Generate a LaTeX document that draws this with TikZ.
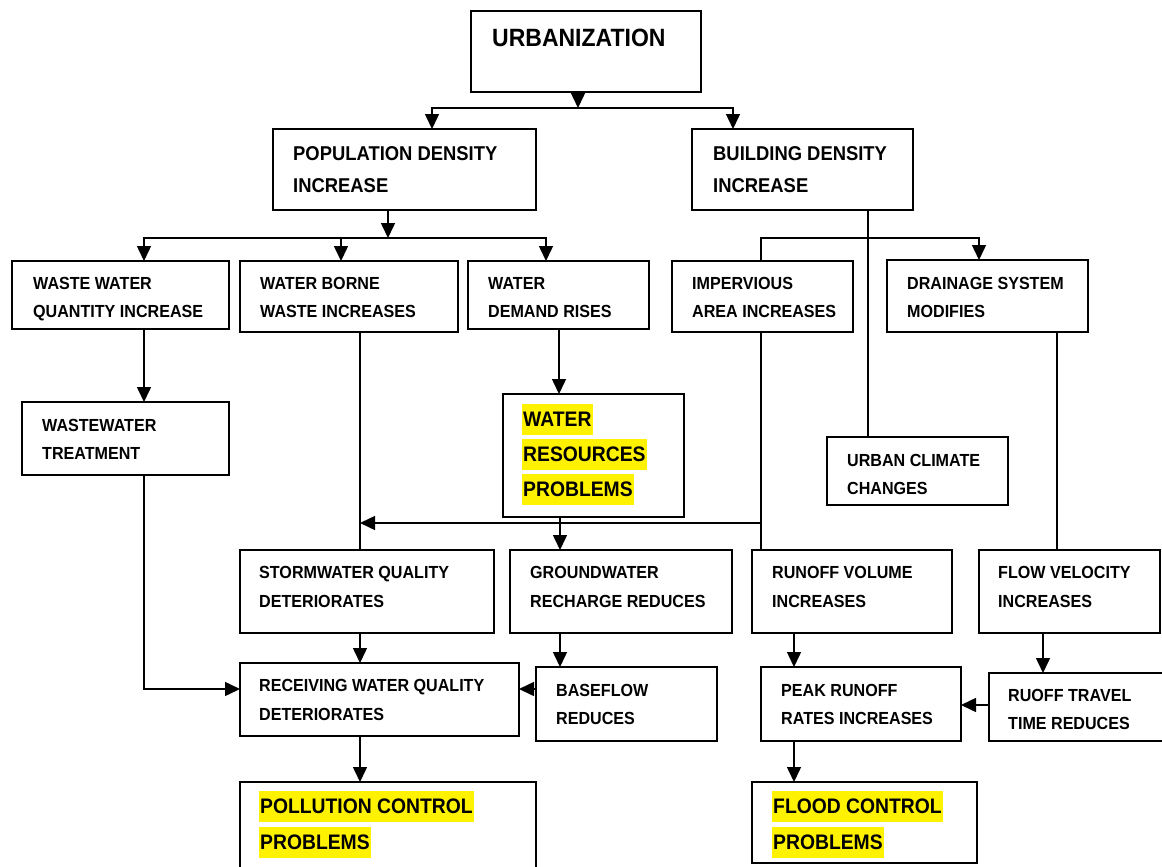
\documentclass[tikz,border=0pt]{standalone}
\usepackage{fontspec}
\setmainfont{Liberation Sans}[FakeStretch=0.92]
\usetikzlibrary{arrows.meta}
\tikzset{
  box/.style={draw, line width=1.7pt, inner sep=0pt, outer sep=0pt},
  conn/.style={line width=1.5pt},
  arr/.style={conn, -{Triangle[length=15pt,width=14pt]}},
  txt/.style={font=\fontsize{17.5}{20}\selectfont\bfseries, inner sep=0pt, text height=12.5pt, text depth=0pt, anchor=west},
  bigtxt/.style={font=\fontsize{20}{24}\selectfont\bfseries, inner sep=0pt, text height=14.3pt, text depth=0pt, anchor=west},
  hltxt/.style={font=\fontsize{21}{24}\selectfont\bfseries, fill=yellow, inner xsep=1pt, inner ysep=8pt, text height=15pt, text depth=0pt, anchor=west},
  titletxt/.style={font=\fontsize{25}{30}\selectfont\bfseries, inner sep=0pt, text height=18pt, text depth=0pt, anchor=west}
}
\newcommand\mkbox[5]{\node[box, minimum width={#4-#2}, minimum height={#5-#3}] (#1) at ({(#2+#4)/2},{(#3+#5)/2}) {};}
\begin{document}
\begin{tikzpicture}[x=1pt,y=-1pt]
\useasboundingbox (0,0) rectangle (1162,867);
\clip (0,0) rectangle (1162,867);
% boxes
\mkbox{urb}{471}{11}{701}{92}
\mkbox{pop}{273}{129}{536}{210}
\mkbox{bld}{692}{129}{913}{210}
\mkbox{wwq}{12}{261}{229}{329}
\mkbox{wbw}{240}{261}{458}{332}
\mkbox{wdr}{468}{261}{649}{329}
\mkbox{imp}{672}{261}{853}{332}
\mkbox{drn}{887}{260}{1088}{332}
\mkbox{trt}{22}{402}{229}{475}
\mkbox{wrp}{503}{394}{684}{517}
\mkbox{ucc}{827}{437}{1008}{505}
\mkbox{stw}{240}{550}{494}{633}
\mkbox{gw}{510}{550}{732}{633}
\mkbox{run}{752}{550}{952}{633}
\mkbox{flw}{979}{550}{1160}{633}
\mkbox{rwq}{240}{663}{519}{736}
\mkbox{bsf}{536}{667}{717}{741}
\mkbox{pk}{761}{667}{961}{741}
\mkbox{ruf}{989}{673}{1175}{741}
\mkbox{pol}{240}{782}{536}{880}
\mkbox{fld}{752}{782}{977}{863}
% texts
\node[titletxt] (urb-1) at (492,38) {URBANIZATION};
\node[bigtxt] (pop-1) at (293,153) {POPULATION DENSITY};
\node[bigtxt] (pop-2) at (293,185) {INCREASE};
\node[bigtxt] (bld-1) at (713,153) {BUILDING DENSITY};
\node[bigtxt] (bld-2) at (713,185) {INCREASE};
\node[txt] (wwq-1) at (33,283) {WASTE WATER};
\node[txt] (wwq-2) at (33,311) {QUANTITY INCREASE};
\node[txt] (wbw-1) at (260,283) {WATER BORNE};
\node[txt] (wbw-2) at (260,311) {WASTE INCREASES};
\node[txt] (wdr-1) at (488,283) {WATER};
\node[txt] (wdr-2) at (488,311) {DEMAND RISES};
\node[txt] (imp-1) at (692,283) {IMPERVIOUS};
\node[txt] (imp-2) at (692,311) {AREA INCREASES};
\node[txt] (drn-1) at (907,283) {DRAINAGE SYSTEM};
\node[txt] (drn-2) at (907,311) {MODIFIES};
\node[txt] (trt-1) at (42,425) {WASTEWATER};
\node[txt] (trt-2) at (42,453) {TREATMENT};
\node[hltxt] (wrp-1) at (522,419) {WATER};
\node[hltxt] (wrp-2) at (522,454) {RESOURCES};
\node[hltxt] (wrp-3) at (522,489) {PROBLEMS};
\node[txt] (ucc-1) at (847,460) {URBAN CLIMATE};
\node[txt] (ucc-2) at (847,488) {CHANGES};
\node[txt] (stw-1) at (259,572) {STORMWATER QUALITY};
\node[txt] (stw-2) at (259,601) {DETERIORATES};
\node[txt] (gw-1) at (530,572) {GROUNDWATER};
\node[txt] (gw-2) at (530,601) {RECHARGE REDUCES};
\node[txt] (run-1) at (772,572) {RUNOFF VOLUME};
\node[txt] (run-2) at (772,601) {INCREASES};
\node[txt] (flw-1) at (998,572) {FLOW VELOCITY};
\node[txt] (flw-2) at (998,601) {INCREASES};
\node[txt] (rwq-1) at (259,685) {RECEIVING WATER QUALITY};
\node[txt] (rwq-2) at (259,714) {DETERIORATES};
\node[txt] (bsf-1) at (556,690) {BASEFLOW};
\node[txt] (bsf-2) at (556,718) {REDUCES};
\node[txt] (pk-1) at (781,690) {PEAK RUNOFF};
\node[txt] (pk-2) at (781,718) {RATES INCREASES};
\node[txt] (ruf-1) at (1008,695) {RUOFF TRAVEL};
\node[txt] (ruf-2) at (1008,723) {TIME REDUCES};
\node[hltxt] (pol-1) at (259,806) {POLLUTION CONTROL};
\node[hltxt] (pol-2) at (259,842) {PROBLEMS};
\node[hltxt] (fld-1) at (772,806) {FLOOD CONTROL};
\node[hltxt] (fld-2) at (772,842) {PROBLEMS};
% helper coordinates
\coordinate (jU) at (578,108);
\coordinate (jUL) at (432,108);
\coordinate (jUR) at (733,108);
\coordinate (jP) at (388,238);
\coordinate (xa) at (144,238);
\coordinate (xb) at (341,238);
\coordinate (xc) at (546,238);
\coordinate (xB) at (868,238);
\coordinate (xI) at (761,238);
\coordinate (xD) at (979,238);
\coordinate (xw) at (559,0);
\coordinate (xs) at (360,523);
\coordinate (xg) at (560,0);
\coordinate (yb) at (0,689);
\coordinate (xF) at (1057,0);
\coordinate (xr) at (794,0);
\coordinate (xf) at (1043,0);
\coordinate (yr) at (0,705);
% connectors
\draw[arr] (urb.south -| jU) -- (jU);
\draw[arr] (jU) -| (jUL |- pop.north);
\draw[arr] (jU) -| (jUR |- bld.north);
\draw[arr] (pop.south -| jP) -- (jP);
\draw[arr] (jP) -| (xa |- wwq.north);
\draw[arr] (jP) -| (xb |- wbw.north);
\draw[arr] (jP) -| (xc |- wdr.north);
\draw[conn] (bld.south -| xB) -- (xB |- ucc.north);
\draw[conn] (xB) -| (xI |- imp.north);
\draw[arr] (xB) -| (xD |- drn.north);
\draw[arr] (wwq.south -| xa) -- (xa |- trt.north);
\draw[arr] (wdr.south -| xw) -- (xw |- wrp.north);
\draw[conn] (wbw.south -| xs) -- (xs |- stw.north);
\draw[conn] (imp.south -| xI) -- (xI |- run.north);
\draw[arr] (xI |- xs) -- (xs);
\draw[arr] (wrp.south -| xg) -- (xg |- gw.north);
\draw[arr] (stw.south -| xs) -- (xs |- rwq.north);
\draw[arr] (gw.south -| xg) -- (xg |- bsf.north);
\draw[arr] (bsf.west |- yb) -- (rwq.east |- yb);
\draw[arr] (trt.south -| xa) |- (rwq.west |- yb);
\draw[arr] (rwq.south -| xs) -- (xs |- pol.north);
\draw[conn] (drn.south -| xF) -- (xF |- flw.north);
\draw[arr] (run.south -| xr) -- (xr |- pk.north);
\draw[arr] (flw.south -| xf) -- (xf |- ruf.north);
\draw[arr] (ruf.west |- yr) -- (pk.east |- yr);
\draw[arr] (pk.south -| xr) -- (xr |- fld.north);
\end{tikzpicture}
\end{document}
